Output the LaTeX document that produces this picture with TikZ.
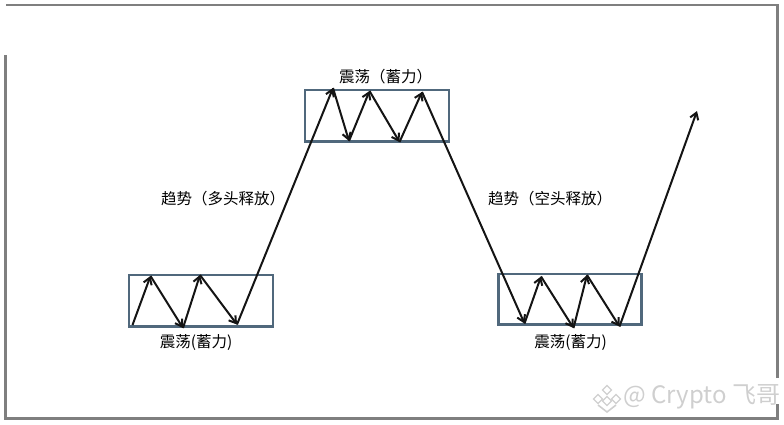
\documentclass[tikz,border=0pt]{standalone}
\usepackage{fontspec}
\setmainfont{Noto Sans CJK SC}
\usetikzlibrary{arrows.meta}

\definecolor{boxblue}{HTML}{50687C}
\definecolor{framegray}{HTML}{7F7F7F}
\definecolor{markgray}{HTML}{CFCFCF}

\tikzset{
    legline/.style={->,>={Straight Barb[length=6.5pt,width=8.5pt]},line width=2pt,black!92},
    rangebox/.style={draw=boxblue,line width=2.3pt},
    labeltext/.style={font=\fontsize{15.5}{18}\selectfont,text=black,inner sep=0pt},
    frameline/.style={draw=framegray,line width=2.2pt},
}

\begin{document}
\begin{tikzpicture}[x=1pt,y=-1pt]
    \useasboundingbox (0, 0) rectangle (784, 424);

    % frame, open at the top left and behind the mark
    \coordinate (fa) at (5.5, 55);
    \coordinate (fb) at (5.5, 418.5);
    \coordinate (fc) at (777.5, 418.5);
    \coordinate (fd) at (777.5, 404);
    \coordinate (fe) at (777.5, 378);
    \coordinate (ff) at (777.5, 5);
    \coordinate (fg) at (5.5, 5);
    \draw [frameline] (fa) -- (fb) -- (fc) -- (fd);
    \draw [frameline] (fe) -- (ff) -- (fg);

    % the three ranges
    \draw [rangebox] (129, 275) rectangle (273, 326.5);
    \draw [rangebox] (305, 90) rectangle (449, 141.5);
    \draw [rangebox] (498.5, 274) rectangle (641.5, 324.5);

    % turning points
    \coordinate (p0) at (132.5, 325);
    \coordinate (p1) at (150.5, 276);
    \coordinate (p2) at (183, 328);
    \coordinate (p3) at (200, 275);
    \coordinate (p4) at (237, 324.5);
    \coordinate (p5) at (333, 88);
    \coordinate (p6) at (349, 141);
    \coordinate (p7) at (369.5, 91);
    \coordinate (p8) at (399.5, 142);
    \coordinate (p9) at (422, 92);
    \coordinate (p10) at (524.5, 323.5);
    \coordinate (p11) at (541, 276.5);
    \coordinate (p12) at (573.5, 328);
    \coordinate (p13) at (587, 275);
    \coordinate (p14) at (619.5, 326.5);
    \coordinate (p15) at (697, 111);

    \draw [legline] (p0) -- (p1);
    \draw [legline] (p1) -- (p2);
    \draw [legline] (p2) -- (p3);
    \draw [legline] (p3) -- (p4);
    \draw [legline] (p4) -- (p5);
    \draw [legline] (p5) -- (p6);
    \draw [legline] (p6) -- (p7);
    \draw [legline] (p7) -- (p8);
    \draw [legline] (p8) -- (p9);
    \draw [legline] (p9) -- (p10);
    \draw [legline] (p10) -- (p11);
    \draw [legline] (p11) -- (p12);
    \draw [legline] (p12) -- (p13);
    \draw [legline] (p13) -- (p14);
    \draw [legline] (p14) -- (p15);

    \path (196, 342) node [labeltext] (lo1) {震荡(蓄力)};
    \path (385.5, 76.5) node [labeltext] (hi) {震荡（蓄力）};
    \path (570.5, 342) node [labeltext] (lo2) {震荡(蓄力)};
    \path (223, 198.5) node [labeltext] (up) {趋势（多头释放）};
    \path (550, 198.5) node [labeltext] (down) {趋势（空头释放）};

    % mark, bottom right
    \path (702, 397) node [font=\fontsize{24}{28}\selectfont,text=markgray,inner sep=0pt] (mark) {@ Crypto 飞哥};
    \foreach \dx/\dy in {0/-8, -9/1, 9/1, 0/3} {
        \draw [markgray,line width=1.3pt] (607+\dx, 398+\dy-4.5) -- ++(4.5, 4.5) -- ++(-4.5, 4.5) -- ++(-4.5, -4.5) -- cycle;
    }
    \draw [markgray,line width=1.6pt] (598, 405) -- (607, 412) -- (616, 405);
\end{tikzpicture}
\end{document}
